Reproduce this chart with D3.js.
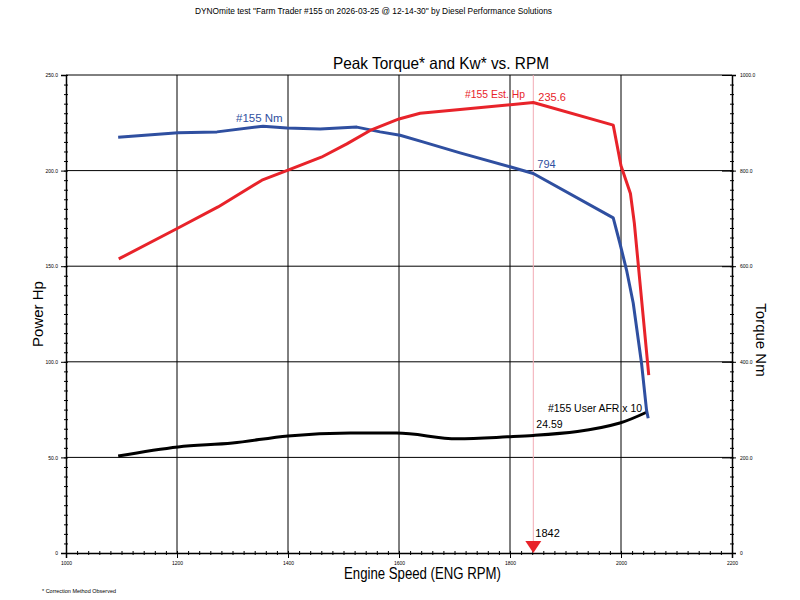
<!DOCTYPE html>
<html><head><meta charset="utf-8">
<script src="https://cdn.jsdelivr.net/npm/d3@7"></script>
<style>body{margin:0;background:#fff}svg{display:block}text{font-family:"Liberation Sans",Arial,sans-serif}</style>
</head><body>
<script>
// ---- data ----
const hpRpm = [1095,1202,1274,1353,1400,1460,1506,1548,1600,1638,1710,1842,1986,2000,2017,2024,2050];
const hpVals = [153.8,170,181,195,200.3,207,214,221,227,230,232,235.6,223.8,202.5,188,172.6,93];
const nmRpm = [1094,1202,1272,1355,1398,1458,1524,1566,1602,1643,1710,1800,1842,1986,1998,2010,2022,2037,2046,2049];
const nmVals = [870,879,881,893,889,887,891,881,874,860,837,808,794,701,648,592,523,397,299,282];
const afrRpm = [1094,1202,1300,1400,1512,1596,1705,1795,1842,1998,2047];
const afrVals = [20.3,22.2,23.0,24.5,25.1,25.1,23.9,24.3,24.59,27.2,29.5];
const xTicks = [1000,1200,1400,1600,1800,2000,2200];
const hpTicks = [0,50,100,150,200,250];
const nmTicks = [0,200,400,600,800,1000];
const peakRpm = 1842, peakHp = 235.6, peakNm = 794, peakAfr = 24.59;

const W=800,H=600;
const svg=d3.select("body").append("svg").attr("width",W).attr("height",H);
const L=66,R=732,T=75,B=553;
const x=d3.scaleLinear().domain([1000,2200]).range([L,R]);
const yL=d3.scaleLinear().domain([0,250]).range([B,T]);
const yR=d3.scaleLinear().domain([0,1000]).range([B,T]);
const RED="#e8232a", BLUE="#2f4fa0";

// header texts
svg.append("text").attr("x",195).attr("y",14).attr("font-size",9).attr("textLength",357).attr("lengthAdjust","spacingAndGlyphs")
 .text('DYNOmite test "Farm  Trader #155 on 2026-03-25 @ 12-14-30" by Diesel Performance Solutions');
svg.append("text").attr("x",333).attr("y",69).attr("font-size",16.5).attr("textLength",216).attr("lengthAdjust","spacingAndGlyphs")
 .text("Peak Torque* and Kw* vs. RPM");

// grid
const g=svg.append("g");
g.selectAll(".hg").data(hpTicks.filter(d=>d>0&&d<250)).join("line")
 .attr("x1",L).attr("x2",R).attr("y1",d=>yL(d)).attr("y2",d=>yL(d)).attr("stroke","#000").attr("stroke-width",1);
g.selectAll(".vg").data(xTicks.filter(d=>d>1000&&d<2200)).join("line")
 .attr("y1",T).attr("y2",B).attr("x1",d=>x(d)).attr("x2",d=>x(d)).attr("stroke","#000").attr("stroke-width",1);
g.append("line").attr("x1",L).attr("x2",R).attr("y1",T).attr("y2",T).attr("stroke","#000");

// axes
function minor(axisGen, sel){ sel.call(axisGen); sel.select(".domain").remove(); sel.selectAll("text").remove(); }
const fmt=d=>d===0?"0":d.toFixed(1);
const la=svg.append("g").attr("transform",`translate(${L},0)`);
la.call(d3.axisLeft(yL).tickValues(hpTicks).tickFormat(fmt).tickSize(5).tickPadding(3));
la.select(".domain").attr("stroke","#000").attr("stroke-width",1.5);
la.selectAll("text").attr("font-size",5).attr("fill","#000");
const lm=svg.append("g").attr("transform",`translate(${L+2},0)`);
minor(d3.axisLeft(yL).tickValues(d3.range(0,251,5)).tickSize(4),lm);
const ra=svg.append("g").attr("transform",`translate(${R},0)`);
ra.call(d3.axisRight(yR).tickValues(nmTicks).tickFormat(fmt).tickSize(4).tickPadding(4));
ra.select(".domain").attr("stroke","#000").attr("stroke-width",1.5);
ra.selectAll("text").attr("font-size",5).attr("fill","#000");
ra.selectAll(".tick line").attr("x1",-10);
const rm=svg.append("g").attr("transform",`translate(${R-2},0)`);
minor(d3.axisRight(yR).tickValues(d3.range(0,1001,20)).tickSize(4),rm);
const ba=svg.append("g").attr("transform",`translate(0,${B})`);
ba.call(d3.axisBottom(x).tickValues(xTicks).tickFormat(d3.format("d")).tickSize(5).tickPadding(3));
ba.select(".domain").attr("stroke","#000").attr("stroke-width",1.5);
ba.selectAll("text").attr("font-size",5).attr("fill","#000");
const bm=svg.append("g").attr("transform",`translate(0,${B-2})`);
minor(d3.axisBottom(x).tickValues(d3.range(1000,2201,20)).tickSize(4),bm);

// axis titles
svg.append("text").attr("transform","translate(43,314) rotate(-90)").attr("text-anchor","middle").attr("font-size",15).text("Power Hp");
svg.append("text").attr("transform","translate(756,340) rotate(90)").attr("text-anchor","middle").attr("font-size",15).text("Torque Nm");
svg.append("text").attr("x",344).attr("y",579).attr("font-size",16).attr("textLength",157).attr("lengthAdjust","spacingAndGlyphs").text("Engine Speed (ENG RPM)");
svg.append("text").attr("x",42).attr("y",593).attr("font-size",5).attr("textLength",74).attr("lengthAdjust","spacingAndGlyphs").text("* Correction Method Observed");

// peak marker line
svg.append("line").attr("x1",x(peakRpm)).attr("x2",x(peakRpm)).attr("y1",T).attr("y2",B).attr("stroke","#f2aab4").attr("stroke-width",1);

// curves
const lineHp=d3.line().x((d,i)=>x(hpRpm[i])).y(d=>yL(d)).curve(d3.curveLinear);
const lineNm=d3.line().x((d,i)=>x(nmRpm[i])).y(d=>yR(d)).curve(d3.curveLinear);
const lineAfr=d3.line().x((d,i)=>x(afrRpm[i])).y(d=>yR(d*10)).curve(d3.curveMonotoneX);
svg.append("path").attr("d",lineAfr(afrVals)).attr("fill","none").attr("stroke","#000").attr("stroke-width",3);
svg.append("path").attr("d",lineNm(nmVals)).attr("fill","none").attr("stroke",BLUE).attr("stroke-width",3).attr("stroke-linejoin","round");
svg.append("path").attr("d",lineHp(hpVals)).attr("fill","none").attr("stroke",RED).attr("stroke-width",3).attr("stroke-linejoin","round");

// labels
svg.append("text").attr("x",236).attr("y",122).attr("font-size",11.5).attr("fill",BLUE).text("#155  Nm");
svg.append("text").attr("x",465).attr("y",98).attr("font-size",11.5).attr("fill",RED).attr("textLength",60).attr("lengthAdjust","spacingAndGlyphs").text("#155 Est. Hp");
svg.append("text").attr("x",x(peakRpm)+5).attr("y",101).attr("font-size",11).attr("fill",RED).text(peakHp.toFixed(1));
svg.append("text").attr("x",x(peakRpm)+4).attr("y",168).attr("font-size",11).attr("fill",BLUE).text(String(peakNm));
svg.append("text").attr("x",548).attr("y",412).attr("font-size",11).attr("fill","#000").attr("textLength",94).attr("lengthAdjust","spacingAndGlyphs").text("#155 User AFR x 10");
svg.append("text").attr("x",x(peakRpm)+3).attr("y",428).attr("font-size",10.5).attr("fill","#000").text(peakAfr.toFixed(2));
svg.append("text").attr("x",x(peakRpm)+2).attr("y",537).attr("font-size",11).attr("fill","#000").text(String(peakRpm));
const px=x(peakRpm);
svg.append("path").attr("d",`M${px-8},541 L${px+8},541 L${px},553 Z`).attr("fill",RED);
</script>
</body></html>
